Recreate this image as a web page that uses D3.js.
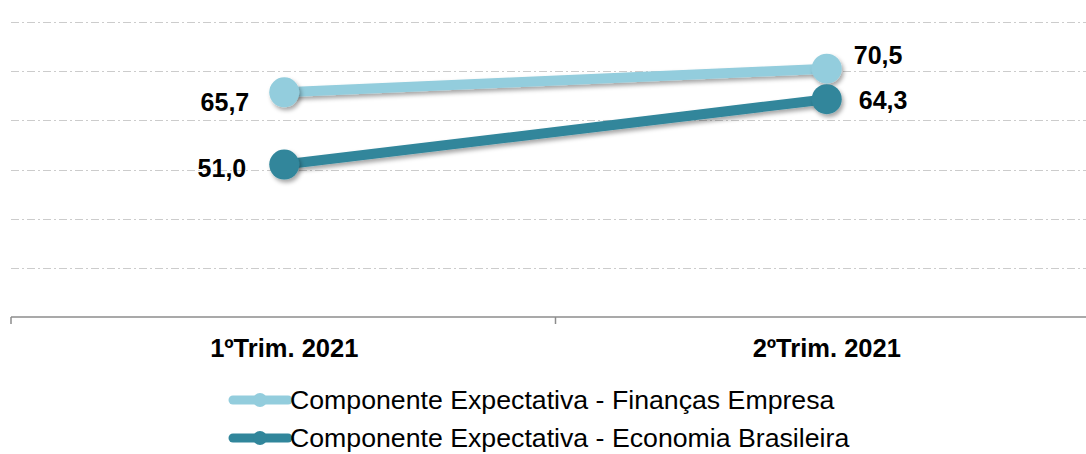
<!DOCTYPE html>
<html>
<head>
<meta charset="utf-8">
<script src="https://cdn.jsdelivr.net/npm/d3@7"></script>
<style>
  body { margin: 0; background: #fff; }
  svg { display: block; font-family: "Liberation Sans", Arial, sans-serif; }
</style>
</head>
<body>
<div class="chart"></div>
<script>
// data
var categories = ["1ºTrim. 2021", "2ºTrim. 2021"];
var financasEmpresa = [65.7, 70.5];
var economiaBrasileira = [51.0, 64.3];
var seriesNames = ["Componente Expectativa - Finanças Empresa", "Componente Expectativa - Economia Brasileira"];
var gridTicks = [30, 40, 50, 60, 70, 80];

var width = 1086, height = 454;

var svg = d3.select(".chart").append("svg")
    .attr("width", width)
    .attr("height", height);

var defs = svg.append("defs");
var f = defs.append("filter").attr("id", "shadow")
    .attr("x", "-50%").attr("y", "-50%").attr("width", "200%").attr("height", "200%");
f.append("feDropShadow")
    .attr("dx", 2).attr("dy", 3).attr("stdDeviation", 2)
    .attr("flood-color", "#000").attr("flood-opacity", 0.35);

var x = d3.scaleBand().domain(categories).range([13, 1098]);
var y = d3.scaleLinear().domain([20, 80]).range([317, 22]);

// gridlines
svg.append("g").selectAll("line")
    .data(gridTicks)
    .enter().append("line")
    .attr("x1", 11).attr("x2", width)
    .attr("y1", function(d) { return Math.round(y(d)) + 0.5; })
    .attr("y2", function(d) { return Math.round(y(d)) + 0.5; })
    .attr("stroke", "#cccccc")
    .attr("stroke-width", 1)
    .attr("stroke-dasharray", "8,3,2,3");

// x axis
var xAxis = svg.append("g")
    .attr("transform", "translate(0," + Math.round(y(20)) + ")");
xAxis.append("line")
    .attr("x1", 11).attr("x2", width)
    .attr("stroke", "#8c8c8c").attr("stroke-width", 1.5);
var tickPos = [11, (x(categories[0]) + x.bandwidth() + x(categories[1])) / 2];
xAxis.selectAll(".tk").data(tickPos).enter().append("line")
    .attr("class", "tk")
    .attr("x1", function(d) { return d; }).attr("x2", function(d) { return d; })
    .attr("y1", 0).attr("y2", 7)
    .attr("stroke", "#8c8c8c").attr("stroke-width", 1.5);
xAxis.selectAll("text").data(categories).enter().append("text")
    .attr("x", function(d) { return x(d) + x.bandwidth() / 2; })
    .attr("y", 40)
    .attr("text-anchor", "middle")
    .attr("font-size", "25.5px")
    .attr("font-weight", "bold")
    .attr("fill", "#000")
    .text(function(d) { return d; });

var series = [
    { name: seriesNames[0], values: financasEmpresa, color: "#93cddd",
      labelDx: [-35, 27], labelDy: [10, -13], anchor: ["end", "start"] },
    { name: seriesNames[1], values: economiaBrasileira, color: "#31869b",
      labelDx: [-38, 32], labelDy: [4, 1], anchor: ["end", "start"] }
];

var line = d3.line()
    .x(function(d, i) { return x(categories[i]) + x.bandwidth() / 2; })
    .y(function(d) { return y(d); });

series.forEach(function(s) {
    var g = svg.append("g");
    g.append("path")
        .datum(s.values)
        .attr("d", line)
        .attr("fill", "none")
        .attr("stroke", s.color)
        .attr("stroke-width", 10)
        .attr("filter", "url(#shadow)");
    g.selectAll("circle").data(s.values).enter().append("circle")
        .attr("cx", function(d, i) { return x(categories[i]) + x.bandwidth() / 2; })
        .attr("cy", function(d) { return y(d); })
        .attr("r", 15)
        .attr("fill", s.color)
        .attr("filter", "url(#shadow)");
    g.selectAll("text").data(s.values).enter().append("text")
        .attr("x", function(d, i) { return x(categories[i]) + x.bandwidth() / 2 + s.labelDx[i]; })
        .attr("y", function(d, i) { return y(d) + s.labelDy[i]; })
        .attr("dy", "0.35em")
        .attr("text-anchor", function(d, i) { return s.anchor[i]; })
        .attr("font-size", "25px")
        .attr("font-weight", "bold")
        .attr("fill", "#000")
        .text(function(d) { return d3.format(".1f")(d).replace(".", ","); });
});

// legend
var legend = svg.append("g").attr("transform", "translate(229,400)");
series.forEach(function(s, i) {
    var row = legend.append("g").attr("transform", "translate(0," + (i * 38) + ")");
    row.append("line")
        .attr("x1", 4).attr("x2", 59)
        .attr("stroke", s.color).attr("stroke-width", 9)
        .attr("stroke-linecap", "round");
    row.append("circle")
        .attr("cx", 31).attr("r", 7)
        .attr("fill", s.color);
    row.append("text")
        .attr("x", 61)
        .attr("dy", "0.35em")
        .attr("font-size", "26.7px")
        .attr("fill", "#000")
        .text(s.name);
});
</script>
</body>
</html>
